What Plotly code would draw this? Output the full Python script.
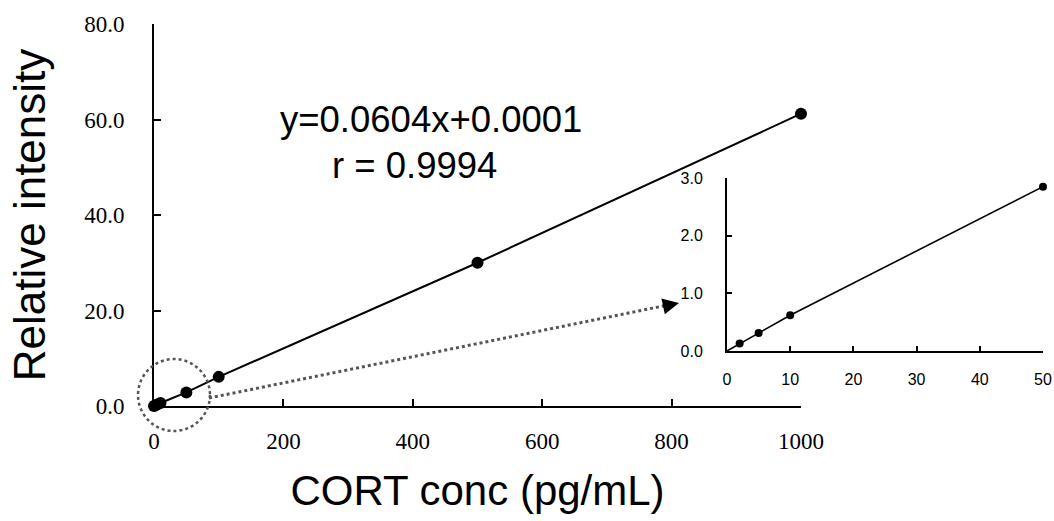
import plotly.graph_objects as go

# Data
conc = [0, 2, 5, 10, 50, 100, 500, 1000]
intensity = [0.0, 0.13, 0.31, 0.62, 2.85, 6.1, 30.0, 61.2]

inset_conc = [c for c in conc if c <= 50]
inset_int = [v for c, v in zip(conc, intensity) if c <= 50]

main_xticks = [0, 200, 400, 600, 800, 1000]
main_yticks = [0, 20, 40, 60, 80]
inset_xticks = [0, 10, 20, 30, 40, 50]
inset_yticks = [0, 1, 2, 3]

# Page body margin is removed in post_script; figure fills the window
W, H = 1054, 521
def px(x):
    return x / W
def py(y):
    return 1 - y / H

SERIF = "Liberation Serif"
SANS = "Liberation Sans, Arial"

fig = go.Figure()

fig.add_trace(go.Scatter(
    x=conc, y=intensity, mode="lines+markers",
    line=dict(color="black", width=2),
    marker=dict(color="black", size=12),
    cliponaxis=False, showlegend=False, xaxis="x", yaxis="y"))

fig.add_trace(go.Scatter(
    x=inset_conc, y=inset_int, mode="lines",
    line=dict(color="black", width=1.6),
    cliponaxis=False, showlegend=False, xaxis="x2", yaxis="y2"))
fig.add_trace(go.Scatter(
    x=inset_conc[1:], y=inset_int[1:], mode="markers",
    marker=dict(color="black", size=8),
    cliponaxis=False, showlegend=False, xaxis="x2", yaxis="y2"))

axis_common = dict(showline=True, linecolor="black", linewidth=2,
                   ticks="inside", tickcolor="black", tickwidth=2,
                   showgrid=False, zeroline=False, automargin=False)

fig.update_layout(
    width=W, height=H,
    margin=dict(l=0, r=0, t=0, b=0, autoexpand=False),
    paper_bgcolor="white", plot_bgcolor="rgba(0,0,0,0)",
    xaxis=dict(domain=[px(154), px(801)], range=[0, 1000],
               tickvals=main_xticks, ticklen=7, anchor="y",
               tickfont=dict(family=SERIF, size=23, color="black"),
               ticklabelstandoff=13,
               title=dict(text="CORT conc (pg/mL)", standoff=23,
                          font=dict(family=SANS, size=42, color="black")),
               **axis_common),
    yaxis=dict(domain=[py(406), py(24)], range=[0, 80],
               tickvals=main_yticks, tickformat=".1f", ticklen=7, anchor="x",
               tickfont=dict(family=SERIF, size=23, color="black"),
               ticklabelstandoff=23,
               title=dict(text="Relative intensity", standoff=25,
                          font=dict(family=SANS, size=44, color="black")),
               **axis_common),
    xaxis2=dict(domain=[px(727), px(1043)], range=[0, 50],
                tickvals=inset_xticks, ticklen=5, anchor="y2",
                tickfont=dict(family=SANS, size=16, color="black"),
                ticklabelstandoff=13, ticklabeloverflow="allow",
                **axis_common),
    yaxis2=dict(domain=[py(351), py(178)], range=[0, 3],
                tickvals=inset_yticks, tickformat=".1f", ticklen=5, anchor="x2",
                tickfont=dict(family=SANS, size=16, color="black"),
                ticklabelstandoff=19,
                **axis_common),
)

# Dotted circle highlighting the low-concentration region
fig.add_shape(type="circle", xref="paper", yref="paper",
              x0=px(138), x1=px(210), y0=py(431), y1=py(359),
              line=dict(color="#555555", width=2.5, dash="dot"))
# Dotted connector line
fig.add_shape(type="line", xref="paper", yref="paper",
              x0=px(209), y0=py(398), x1=px(668), y1=py(305),
              line=dict(color="#555555", width=3, dash="dot"))
# Arrow head
fig.add_annotation(x=px(679), y=py(303), xref="paper", yref="paper",
                   ax=-14, ay=3, text="", showarrow=True,
                   arrowhead=2, arrowsize=1.3, arrowwidth=2.5, arrowcolor="black")

fig.add_annotation(x=px(431), y=py(97), xref="paper", yref="paper",
                   text="y=0.0604x+0.0001", showarrow=False,
                   font=dict(family=SANS, size=36.5, color="black"))
fig.add_annotation(x=px(414), y=py(143), xref="paper", yref="paper",
                   text="r = 0.9994", showarrow=False,
                   font=dict(family=SANS, size=36.5, color="black"))

fig.write_html("out.html",
               config={"displayModeBar": False},
               post_script="document.body.style.margin='0';"
                           "document.body.style.overflow='hidden';")
